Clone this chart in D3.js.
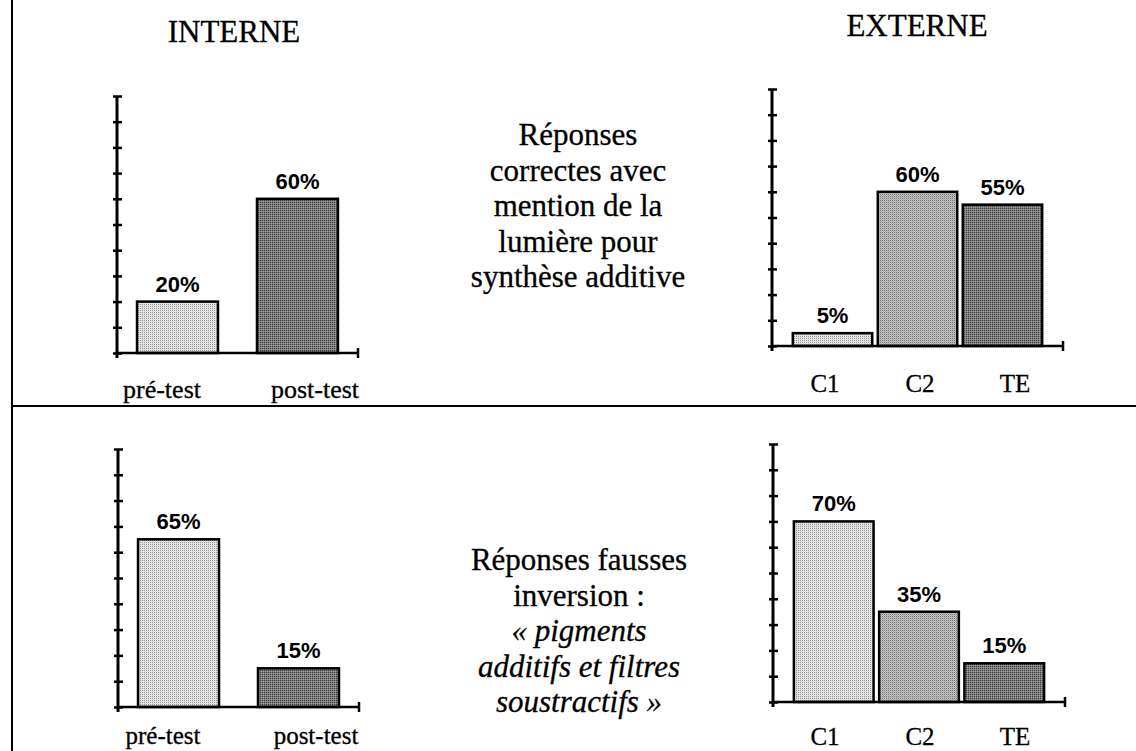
<!DOCTYPE html>
<html>
<head>
<meta charset="utf-8">
<script src="https://cdn.jsdelivr.net/npm/d3@7"></script>
<style>
  html, body { margin: 0; padding: 0; background: #fff; }
  svg { display: block; }
</style>
</head>
<body>
<svg id="chart" width="1136" height="751"></svg>
<script>
// ---- data ----
const panelTitles = ["INTERNE", "EXTERNE"];
const internCategories = ["pré-test", "post-test"];
const externCategories = ["C1", "C2", "TE"];
const internCorrect = [20, 60];
const externCorrect = [5, 60, 55];
const internInversion = [65, 15];
const externInversion = [70, 35, 15];
const yTickValues = [0, 10, 20, 30, 40, 50, 60, 70, 80, 90, 100];
const topCaption = ["Réponses", "correctes avec", "mention de la", "lumière pour", "synthèse additive"];
const bottomCaption = ["Réponses fausses", "inversion :", "« pigments", "additifs et filtres", "soustractifs »"];
const bottomCaptionItalic = [false, false, true, true, true];
const internFills = ["url(#pLight)", "url(#pDark)"];
const externFills = ["url(#pLight)", "url(#pMed)", "url(#pDark)"];

const svg = d3.select("#chart");
const defs = svg.append("defs");

function makePattern(id, bg, dots) {
  const p = defs.append("pattern").attr("id", id)
    .attr("patternUnits", "userSpaceOnUse").attr("width", 2).attr("height", 2);
  p.append("rect").attr("width", 2).attr("height", 2).attr("fill", bg);
  dots.forEach(d => p.append("rect").attr("x", d[0]).attr("y", d[1])
    .attr("width", 1).attr("height", 1).attr("fill", d[2]));
}
makePattern("pLight", "#e2e2e2", [[0, 0, "#979797"]]);
makePattern("pMed", "#c4c4c4", [[0, 0, "#767676"], [1, 1, "#ababab"]]);
makePattern("pDark", "#7e7e7e", [[0, 0, "#3e3e3e"], [1, 1, "#9c9c9c"]]);

const serif = "'Liberation Serif', 'Times New Roman', serif";
const sans = "'Liberation Sans', Arial, sans-serif";

// frame lines
svg.append("line").attr("x1", 12).attr("x2", 12).attr("y1", 0).attr("y2", 751)
  .attr("stroke", "#000").attr("stroke-width", 2);
svg.append("line").attr("x1", 12).attr("x2", 1136).attr("y1", 406).attr("y2", 406)
  .attr("stroke", "#000").attr("stroke-width", 2);

// titles
svg.append("text").attr("x", 234).attr("y", 42).attr("text-anchor", "middle")
  .attr("font-family", serif).attr("font-size", 31)
  .attr("stroke", "#000").attr("stroke-width", 0.3).text(panelTitles[0]);
svg.append("text").attr("x", 917).attr("y", 36).attr("text-anchor", "middle")
  .attr("font-family", serif).attr("font-size", 31)
  .attr("stroke", "#000").attr("stroke-width", 0.3).text(panelTitles[1]);

function panel(cfg) {
  const { categories, values, fills, x0, x1, y0, y100, pIn, pOut, labelRange, labelY, labelSize } = cfg;
  const g = svg.append("g");
  const x = d3.scaleBand().domain(categories).range([x0, x1]).paddingInner(pIn).paddingOuter(pOut);
  const y = d3.scaleLinear().domain([0, 100]).range([y0, y100]);

  // bars
  g.selectAll("rect.bar").data(values).join("rect").attr("class", "bar")
    .attr("x", (d, i) => x(categories[i]))
    .attr("width", x.bandwidth())
    .attr("y", d => y(d))
    .attr("height", d => y(0) - y(d))
    .attr("fill", (d, i) => fills[i])
    .attr("stroke", "#000").attr("stroke-width", 2.5);

  // value labels
  g.selectAll("text.val").data(values).join("text").attr("class", "val")
    .attr("x", (d, i) => x(categories[i]) + x.bandwidth() / 2)
    .attr("y", d => y(d) - 10)
    .attr("text-anchor", "middle")
    .attr("font-family", sans).attr("font-weight", "bold").attr("font-size", 22)
    .text(d => d + "%");

  // y axis
  const ax = g.append("g").attr("transform", `translate(${x0},0)`)
    .call(d3.axisRight(y).tickValues(yTickValues).tickFormat(""));
  ax.select(".domain").remove();
  ax.selectAll(".tick line").attr("x1", -4).attr("x2", 5)
    .attr("stroke", "#000").attr("stroke-width", 2.5);
  ax.append("line").attr("x1", 0).attr("x2", 0).attr("y1", y(100)).attr("y2", y(0) + 5)
    .attr("stroke", "#000").attr("stroke-width", 3);

  // x axis
  g.append("line").attr("x1", x0).attr("x2", x1).attr("y1", y(0)).attr("y2", y(0))
    .attr("stroke", "#000").attr("stroke-width", 2.5);
  g.append("line").attr("x1", x1).attr("x2", x1).attr("y1", y(0) - 5).attr("y2", y(0) + 5)
    .attr("stroke", "#000").attr("stroke-width", 2.5);

  // category labels
  const lx = d3.scalePoint().domain(categories).range(labelRange);
  g.selectAll("text.cat").data(categories).join("text").attr("class", "cat")
    .attr("x", d => lx(d)).attr("y", labelY)
    .attr("text-anchor", "middle")
    .attr("font-family", serif).attr("font-size", labelSize)
    .attr("stroke", "#000").attr("stroke-width", 0.3)
    .text(d => d);
}

panel({ categories: internCategories, values: internCorrect, fills: internFills,
  x0: 117, x1: 358, y0: 353, y100: 96, pIn: 0.325, pOut: 0.167,
  labelRange: [162, 315], labelY: 398, labelSize: 26 });
panel({ categories: externCategories, values: externCorrect, fills: externFills,
  x0: 772, x1: 1063, y0: 346, y100: 89, pIn: 0.065, pOut: 0.245,
  labelRange: [825, 1015], labelY: 392, labelSize: 25 });
panel({ categories: internCategories, values: internInversion, fills: internFills,
  x0: 118, x1: 359, y0: 707, y100: 449, pIn: 0.325, pOut: 0.167,
  labelRange: [163, 316], labelY: 744, labelSize: 25 });
panel({ categories: externCategories, values: externInversion, fills: externFills,
  x0: 773, x1: 1065, y0: 702, y100: 444, pIn: 0.065, pOut: 0.245,
  labelRange: [825, 1015], labelY: 745, labelSize: 25 });

// captions
svg.append("g").selectAll("text").data(topCaption).join("text")
  .attr("x", 578).attr("y", (d, i) => 145 + i * 35.5)
  .attr("text-anchor", "middle").attr("font-family", serif).attr("font-size", 31)
  .attr("stroke", "#000").attr("stroke-width", 0.3)
  .text(d => d);
svg.append("g").selectAll("text").data(bottomCaption).join("text")
  .attr("x", 579).attr("y", (d, i) => 570 + i * 35.5)
  .attr("text-anchor", "middle").attr("font-family", serif).attr("font-size", 31)
  .attr("stroke", "#000").attr("stroke-width", 0.3)
  .attr("font-style", (d, i) => bottomCaptionItalic[i] ? "italic" : "normal")
  .text(d => d);
</script>
</body>
</html>
